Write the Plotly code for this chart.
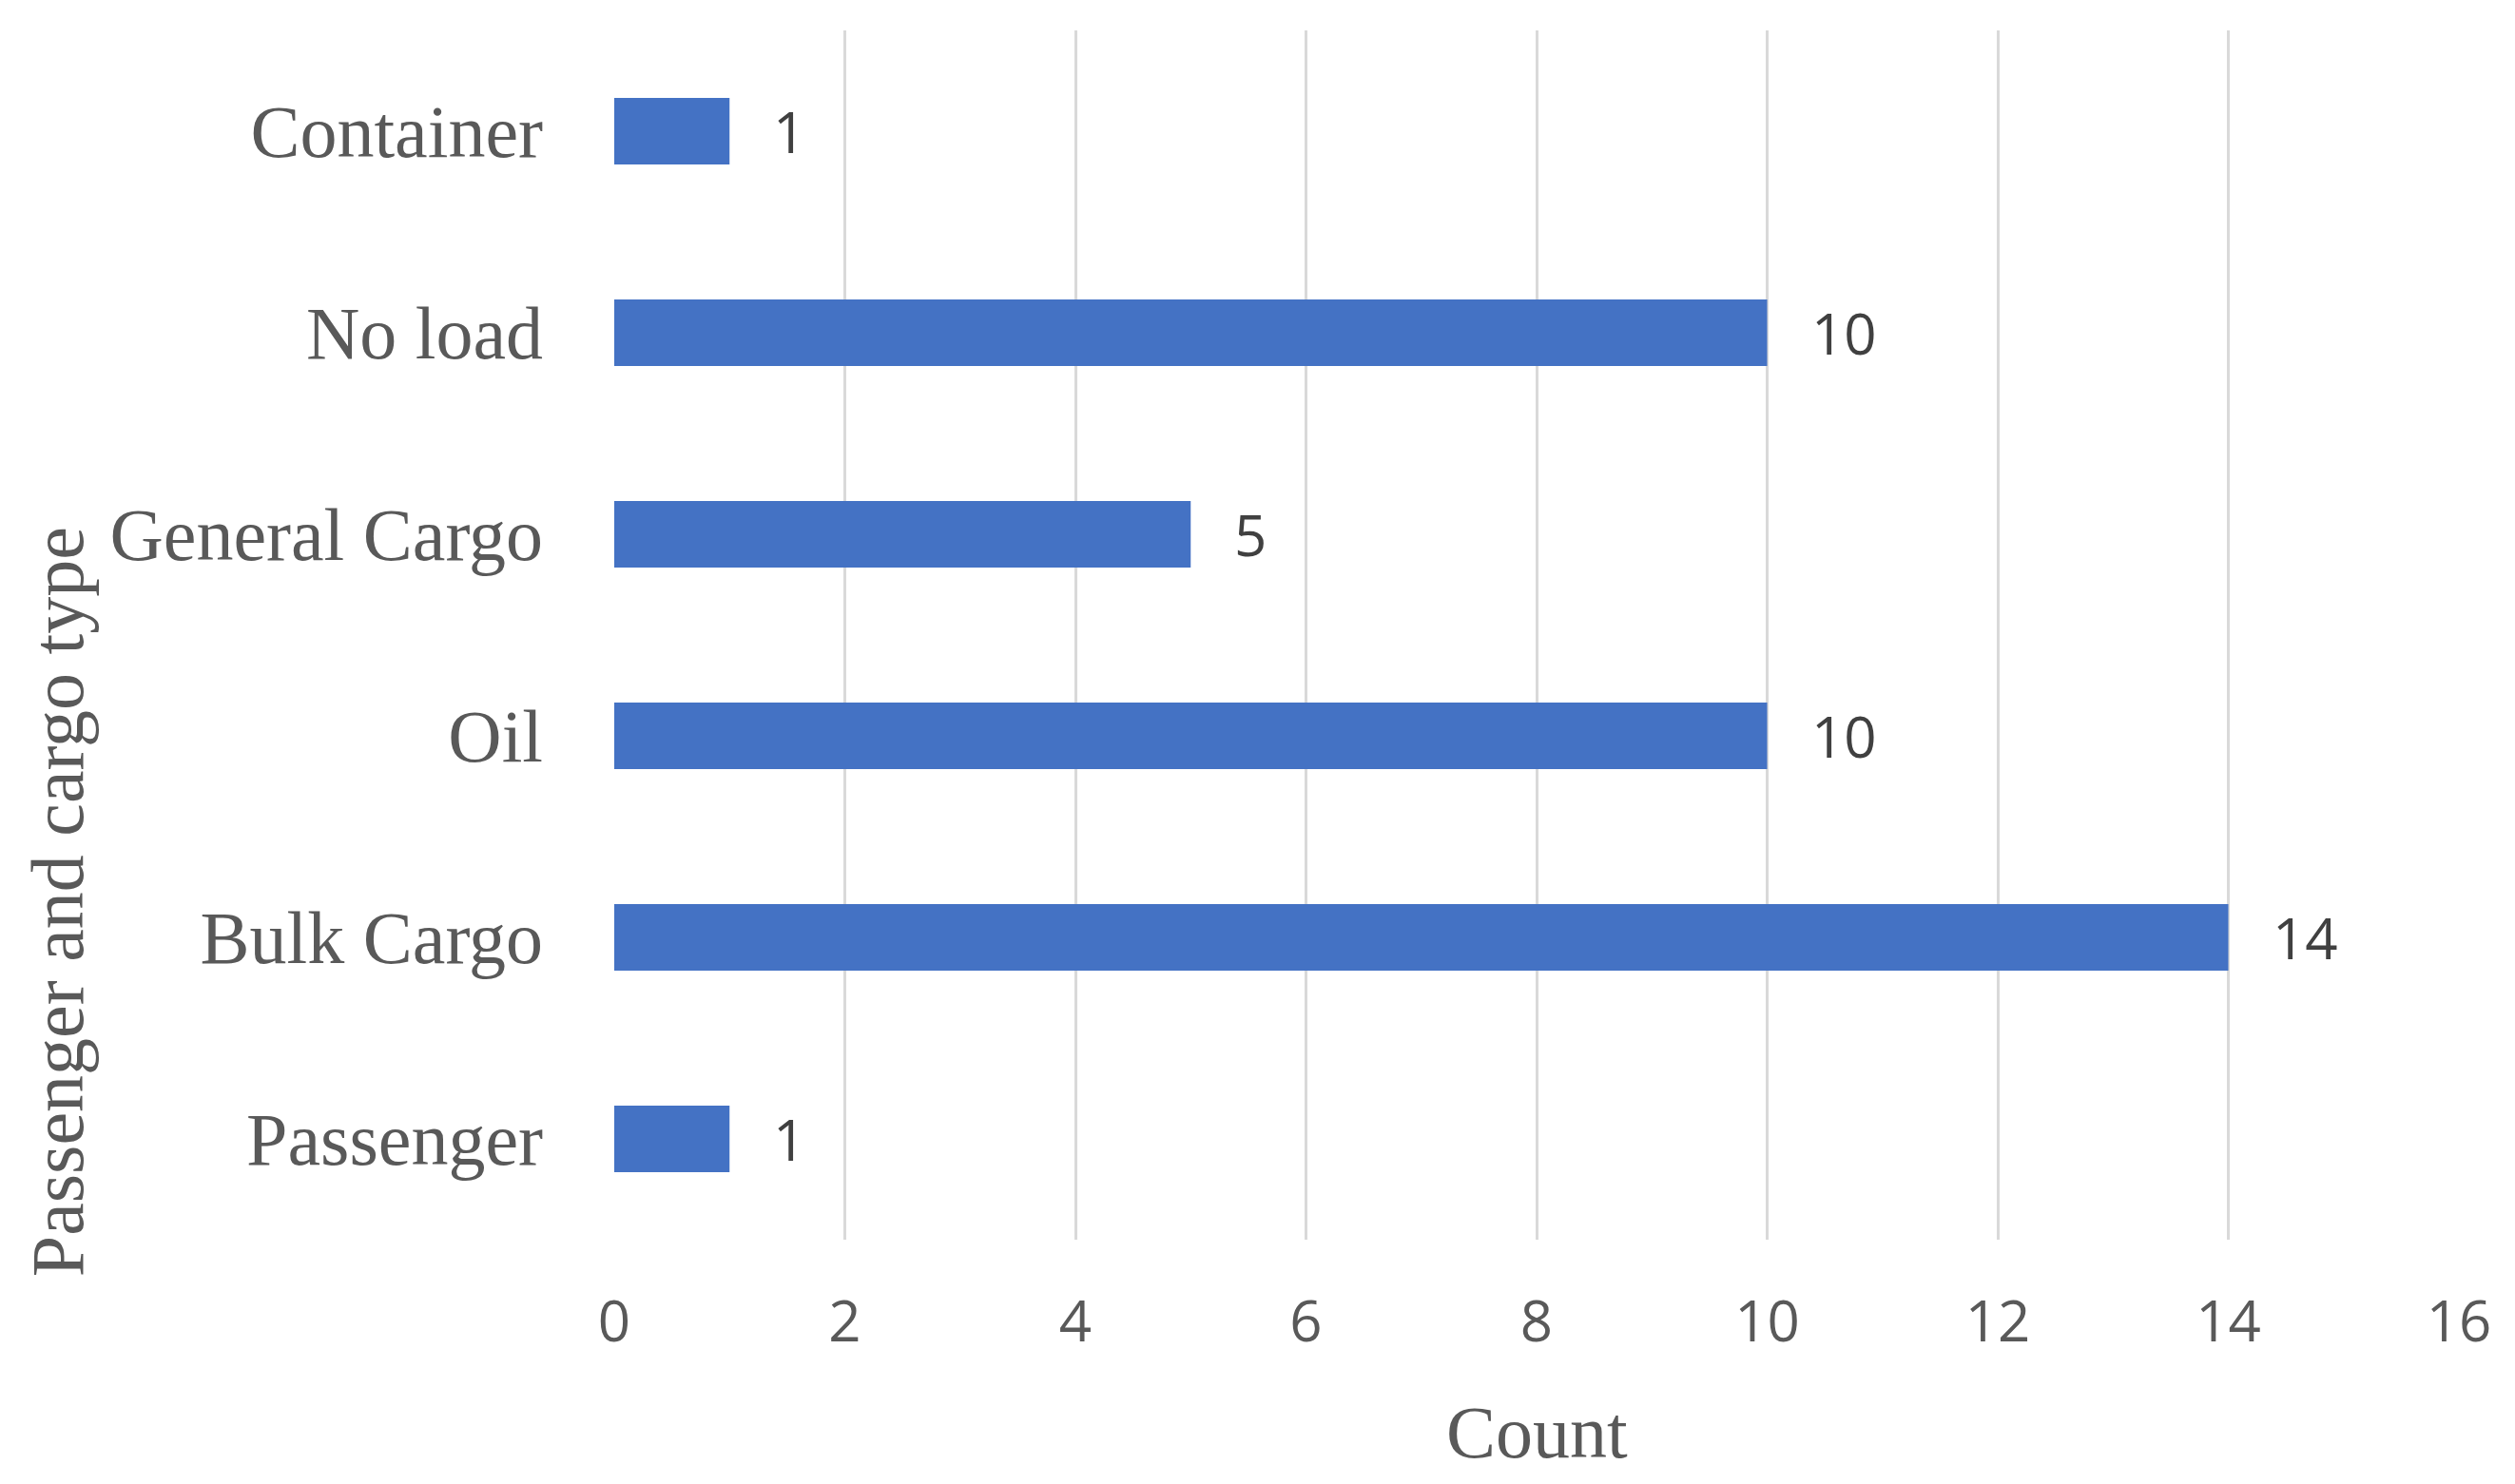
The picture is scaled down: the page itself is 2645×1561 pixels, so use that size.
import plotly.graph_objects as go

# bottom to top, as plotly draws categories on a y axis
cargo_types = ["Passenger", "Bulk Cargo", "Oil", "General Cargo", "No load", "Container"]
counts = [1, 14, 10, 5, 10, 1]
x_ticks = [0, 2, 4, 6, 8, 10, 12, 14, 16]

SERIF = "Liberation Serif"
SANS = "Open Sans"
GREY = "#595959"

fig = go.Figure()
fig.add_trace(
    go.Bar(
        x=counts,
        y=cargo_types,
        orientation="h",
        marker=dict(color="#4472C4", line=dict(width=0)),
        showlegend=False,
        hoverinfo="x+y",
    )
)

# value labels right of each bar
for cat, val in zip(cargo_types, counts):
    fig.add_annotation(
        x=val, y=cat, text=str(val), showarrow=False,
        xanchor="left", yanchor="middle", xshift=44,
        font=dict(family=SANS, size=60, color="#404040"),
    )

fig.add_annotation(
    text="Passenger and cargo type", textangle=-90, showarrow=False,
    xref="paper", yref="paper", x=-0.302, y=0.279,
    xanchor="center", yanchor="middle",
    font=dict(family=SERIF, size=78, color=GREY),
)
fig.add_annotation(
    text="Count", showarrow=False,
    xref="paper", yref="paper", x=0.5, y=-0.159,
    xanchor="center", yanchor="middle",
    font=dict(family=SERIF, size=78, color=GREY),
)

fig.update_layout(
    width=2645,
    height=1561,
    margin=dict(l=638, r=67, t=24, b=265),
    paper_bgcolor="white",
    plot_bgcolor="white",
    bargap=0.67,
    xaxis=dict(
        range=[0, 16],
        tickvals=x_ticks,
        showgrid=True,
        gridcolor="#d9d9d9",
        gridwidth=3,
        zeroline=False,
        showline=False,
        ticks="",
        ticklabelstandoff=46,
        tickfont=dict(family=SANS, size=60, color=GREY),
    ),
    yaxis=dict(
        showgrid=False,
        zeroline=False,
        showline=False,
        ticks="",
        ticklabelstandoff=74,
        tickfont=dict(family=SERIF, size=78, color=GREY),
    ),
)

fig.write_html("out.html")
